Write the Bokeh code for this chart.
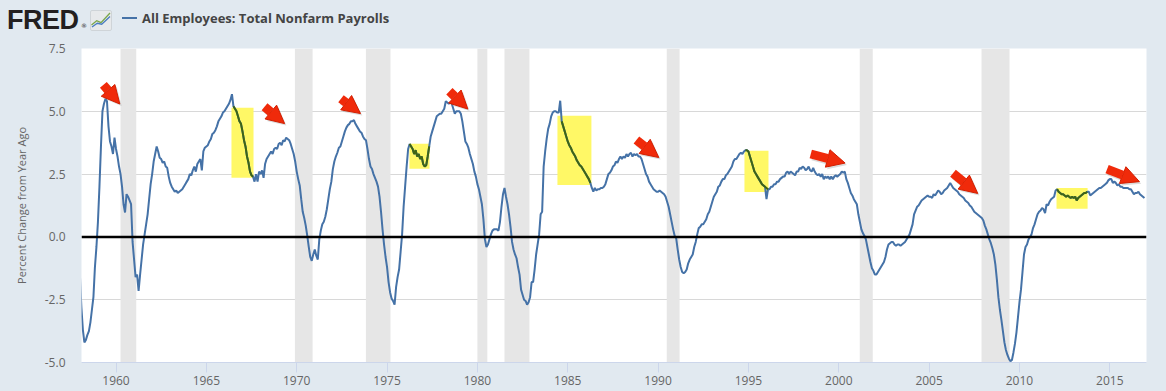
from bokeh.plotting import figure
from bokeh.layouts import column
from bokeh.models import ColumnDataSource, Range1d, FixedTicker, Span, Arrow, NormalHead, Div
from bokeh.embed import file_html
from bokeh.resources import INLINE

# ---------------- data ----------------
start_year = 1958
# All Employees: Total Nonfarm Payrolls, percent change from year ago (monthly, Jan 1958 - Dec 2016)
payroll_yoy = [
    -1.5, -2.8, -3.7, -4.2, -4.1, -3.9, -3.75, -3.4, -2.9, -2.4, -1.2, -0.4,   # 1958
    0.6, 2.0, 3.6, 5.0, 5.3, 5.5, 5.4, 4.4, 3.8, 3.6, 3.3, 3.95,              # 1959
    3.5, 3.2, 2.8, 2.5, 2.0, 1.3, 0.97, 1.7, 1.6, 1.45, 1.3, -0.2,            # 1960
    -0.9, -1.6, -1.5, -2.15, -1.5, -0.9, -0.3, 0.1, 0.5, 0.9, 1.5, 2.1,       # 1961
    2.5, 3.0, 3.3, 3.6, 3.4, 3.15, 3.1, 2.95, 3.0, 2.8, 2.75, 2.4,            # 1962
    2.15, 2.0, 1.9, 1.8, 1.85, 1.75, 1.8, 1.85, 1.9, 2.0, 2.1, 2.2,           # 1963
    2.3, 2.5, 2.45, 2.65, 2.8, 2.6, 2.9, 3.0, 3.1, 2.65, 3.4, 3.55,           # 1964
    3.6, 3.65, 3.8, 3.9, 4.1, 4.15, 4.25, 4.4, 4.6, 4.7, 4.8, 4.95,           # 1965
    5.0, 5.1, 5.2, 5.3, 5.45, 5.68, 5.2, 5.1, 5.0, 4.8, 4.6, 4.5,             # 1966
    4.2, 3.85, 3.6, 3.2, 2.95, 2.6, 2.45, 2.4, 2.2, 2.5, 2.2, 2.6,            # 1967
    2.5, 2.65, 2.35, 2.9, 3.1, 3.2, 3.3, 3.4, 3.3, 3.5, 3.55, 3.5,            # 1968
    3.7, 3.75, 3.65, 3.85, 3.8, 3.95, 3.9, 3.85, 3.7, 3.5, 3.3, 3.0,          # 1969
    2.6, 2.3, 2.05, 1.5, 1.0, 0.75, 0.45, 0.05, -0.4, -0.8, -0.95, -0.7,      # 1970
    -0.5, -0.75, -0.9, -0.1, 0.25, 0.5, 0.6, 0.8, 1.1, 1.5, 1.9, 2.2,         # 1971
    2.7, 3.0, 3.2, 3.35, 3.55, 3.6, 3.8, 4.0, 4.2, 4.35, 4.45, 4.5,           # 1972
    4.6, 4.6, 4.65, 4.5, 4.4, 4.3, 4.2, 4.15, 4.0, 3.9, 3.85, 3.5,            # 1973
    3.1, 2.8, 2.7, 2.5, 2.35, 2.2, 2.0, 1.6, 1.0, 0.3, -0.3, -0.8,            # 1974
    -1.2, -1.8, -2.2, -2.45, -2.55, -2.7, -2.0, -1.6, -1.3, -0.6, 0.1, 1.2,   # 1975
    2.0, 2.8, 3.5, 3.7, 3.6, 3.5, 3.3, 3.45, 3.2, 3.3, 3.1, 3.2,              # 1976
    2.9, 2.8, 2.85, 3.2, 3.6, 4.0, 4.2, 4.4, 4.6, 4.8, 4.85, 4.9,             # 1977
    4.9, 5.0, 5.1, 5.4, 5.35, 5.3, 5.35, 5.3, 5.1, 4.9, 5.0, 5.0,             # 1978
    5.0, 4.9, 4.6, 4.2, 3.8, 3.7, 3.55, 3.3, 3.1, 2.9, 2.6, 2.4,              # 1979
    2.1, 1.9, 1.6, 1.3, 0.7, -0.1, -0.4, -0.3, -0.1, 0.1, 0.25, 0.3,          # 1980
    0.3, 0.3, 0.25, 0.6, 1.2, 1.7, 1.95, 1.6, 1.3, 0.9, 0.4, -0.2,            # 1981
    -0.5, -0.7, -0.85, -1.2, -1.5, -2.1, -2.3, -2.5, -2.55, -2.7, -2.6, -2.4, # 1982
    -1.8, -1.8, -1.3, -0.7, -0.3, 0.1, 0.9, 1.0, 2.8, 3.4, 3.9, 4.3,          # 1983
    4.5, 4.8, 4.95, 5.0, 5.0, 4.95, 4.95, 5.42, 4.6, 4.4, 4.2, 4.0,           # 1984
    3.8, 3.65, 3.55, 3.4, 3.3, 3.2, 3.05, 2.95, 2.85, 2.8, 2.7, 2.6,          # 1985
    2.5, 2.4, 2.3, 2.15, 1.95, 1.8, 1.95, 1.85, 1.9, 1.9, 1.95, 1.95,         # 1986
    2.0, 2.1, 2.3, 2.5, 2.55, 2.65, 2.8, 2.85, 3.0, 2.95, 3.1, 3.2,           # 1987
    3.1, 3.2, 3.15, 3.3, 3.2, 3.3, 3.35, 3.2, 3.3, 3.25, 3.3, 3.2,            # 1988
    3.2, 3.1, 2.9, 2.7, 2.5, 2.4, 2.2, 2.1, 2.0, 1.9, 1.85, 1.8,              # 1989
    1.8, 1.85, 1.8, 1.75, 1.7, 1.6, 1.4, 1.2, 0.9, 0.6, 0.3, 0.05,            # 1990
    -0.05, -0.5, -0.9, -1.2, -1.4, -1.45, -1.4, -1.3, -1.05, -0.9, -0.8, -0.7,  # 1991
    -0.4, -0.2, 0.1, 0.35, 0.4, 0.5, 0.5, 0.6, 0.7, 0.9, 1.0, 1.2,            # 1992
    1.4, 1.6, 1.7, 1.8, 2.0, 2.05, 2.2, 2.3, 2.3, 2.45, 2.5, 2.6,             # 1993
    2.7, 2.8, 3.0, 3.1, 3.1, 3.2, 3.3, 3.35, 3.3, 3.4, 3.45, 3.45,            # 1994
    3.4, 3.2, 3.0, 2.8, 2.6, 2.5, 2.4, 2.3, 2.2, 2.1, 2.05, 2.0,              # 1995
    1.5, 1.9, 1.9, 2.0, 2.0, 2.1, 2.1, 2.2, 2.2, 2.3, 2.35, 2.4,              # 1996
    2.4, 2.55, 2.6, 2.5, 2.6, 2.55, 2.5, 2.45, 2.6, 2.6, 2.75, 2.7,           # 1997
    2.8, 2.75, 2.65, 2.7, 2.8, 2.65, 2.6, 2.75, 2.6, 2.5, 2.45, 2.5,          # 1998
    2.4, 2.5, 2.3, 2.4, 2.35, 2.4, 2.3, 2.4, 2.3, 2.4, 2.45, 2.4,             # 1999
    2.45, 2.5, 2.6, 2.55, 2.6, 2.3, 2.15, 1.95, 1.75, 1.65, 1.5, 1.4,         # 2000
    1.3, 0.9, 0.6, 0.3, 0.15, 0.05, -0.1, -0.4, -0.7, -1.0, -1.25, -1.35,     # 2001
    -1.5, -1.5, -1.4, -1.3, -1.2, -1.1, -1.0, -0.8, -0.5, -0.3, -0.25, -0.2,  # 2002
    -0.2, -0.3, -0.35, -0.3, -0.3, -0.35, -0.3, -0.25, -0.2, -0.1, 0.0, 0.1,  # 2003
    0.3, 0.5, 0.9, 1.05, 1.2, 1.25, 1.35, 1.45, 1.5, 1.55, 1.6, 1.65,         # 2004
    1.6, 1.6, 1.55, 1.7, 1.65, 1.75, 1.85, 1.8, 1.7, 1.75, 1.85, 1.9,         # 2005
    1.95, 2.05, 2.15, 2.05, 1.95, 1.9, 1.85, 1.8, 1.7, 1.65, 1.6, 1.55,       # 2006
    1.45, 1.4, 1.35, 1.25, 1.2, 1.1, 1.0, 0.95, 0.9, 0.85, 0.8, 0.75,         # 2007
    0.65, 0.45, 0.3, 0.1, -0.1, -0.25, -0.45, -0.7, -1.1, -1.7, -2.4, -2.9,   # 2008
    -3.3, -3.75, -4.2, -4.5, -4.7, -4.85, -4.95, -4.9, -4.6, -4.25, -3.8, -3.2,  # 2009
    -2.6, -2.1, -1.4, -0.7, -0.4, -0.3, -0.1, 0.0, 0.1, 0.35, 0.5, 0.7,       # 2010
    0.9, 1.0, 1.05, 1.15, 1.1, 0.95, 1.3, 1.25, 1.4, 1.5, 1.55, 1.6,          # 2011
    1.85, 1.9, 1.8, 1.75, 1.7, 1.7, 1.65, 1.6, 1.65, 1.6, 1.55, 1.6,          # 2012
    1.55, 1.6, 1.45, 1.55, 1.6, 1.65, 1.7, 1.75, 1.75, 1.8, 1.8, 1.65,        # 2013
    1.7, 1.75, 1.8, 1.85, 1.9, 1.95, 1.95, 2.0, 2.05, 2.1, 2.15, 2.25,        # 2014
    2.3, 2.3, 2.15, 2.2, 2.15, 2.05, 2.1, 2.0, 2.0, 1.95, 1.95, 1.95,         # 2015
    1.95, 1.9, 1.9, 1.8, 1.7, 1.75, 1.75, 1.8, 1.7, 1.65, 1.6, 1.55,          # 2016
]

# NBER recessions (decimal years)
rec_start = [1960.25, 1969.90, 1973.83, 1980.00, 1981.50, 1990.48, 2001.16, 2007.90]
rec_end = [1961.12, 1970.88, 1975.19, 1980.55, 1982.88, 1991.19, 2001.88, 2009.45]

# yellow highlight boxes
hl_x0 = [1966.39, 1976.24, 1984.43, 1994.78, 2012.05]
hl_x1 = [1967.61, 1977.35, 1986.31, 1996.11, 2013.77]
hl_top = [5.14, 3.71, 4.82, 3.43, 1.95]
hl_bottom = [2.35, 2.71, 2.07, 1.79, 1.12]

# red arrows (tail -> tip)
arrow_x0 = [1959.30, 1968.22, 1972.45, 1978.45, 1988.80, 1998.45, 2006.32, 2014.85]
arrow_y0 = [6.05, 5.18, 5.50, 5.80, 3.86, 3.30, 2.53, 2.70]
arrow_x1 = [1960.21, 1969.33, 1973.53, 1979.47, 1990.04, 2000.35, 2007.69, 2016.64]
arrow_y1 = [5.29, 4.51, 4.91, 5.09, 3.16, 2.94, 1.73, 2.20]

x_ticks = [1960, 1965, 1970, 1975, 1980, 1985, 1990, 1995, 2000, 2005, 2010, 2015]
y_ticks = [-5.0, -2.5, 0.0, 2.5, 5.0, 7.5]
y_tick_labels = ["-5.0", "-2.5", "0.0", "2.5", "5.0", "7.5"]

title_text = "All Employees: Total Nonfarm Payrolls"
y_label = "Percent Change from Year Ago"
logo_text = "FRED"

BG = "#e1e9f0"
FONT = "Open Sans"
GREY = "#666666"
SERIES = "#4572a7"
W, HEAD_H, MAIN_H = 1166, 40, 351

# ---------------- header strip ----------------
header_html = f"""
<div style="position:relative;width:{W}px;height:{HEAD_H}px;background:{BG};overflow:hidden;">
  <span style="position:absolute;left:7px;top:4.5px;line-height:30px;white-space:nowrap;
        font-family:'Liberation Sans';font-weight:bold;font-size:27px;color:#231f20;
        letter-spacing:-0.5px;">{logo_text}</span>
  <span style="position:absolute;left:81px;top:22px;line-height:8px;font-family:'DejaVu Sans';
        font-size:6px;color:#231f20;">&reg;</span>
  <svg style="position:absolute;left:90px;top:10px;" width="22" height="22" viewBox="0 0 22 22">
    <rect x="0.5" y="0.5" width="21" height="20" rx="1.5" fill="#e7e9eb" stroke="#cfd4d8"/>
    <polyline points="1.5,15 6.7,10.7 11,12.7 20,3" fill="none" stroke="#7aa64a" stroke-width="1.3"/>
    <polyline points="2,17 7.3,13.3 11.7,14.2 20,6.5" fill="none" stroke="#4a7cc0" stroke-width="1.3"/>
  </svg>
  <span style="position:absolute;left:122px;top:17.3px;width:15px;height:2px;background:{SERIES};"></span>
  <span style="position:absolute;left:142px;top:8.5px;line-height:18px;white-space:nowrap;
        font-family:'{FONT}';font-weight:bold;font-size:13px;color:#444444;">{title_text}</span>
</div>
"""
header = Div(text=header_html, width=W, height=HEAD_H, margin=0, styles={"background-color": BG})

# ---------------- main chart ----------------
dates = [start_year + i / 12.0 for i in range(len(payroll_yoy))]

p = figure(width=W, height=MAIN_H, x_range=Range1d(1958.09, 2017.03), y_range=Range1d(-5, 7.5),
           output_backend="svg", toolbar_location=None, title=None,
           min_border_left=81, min_border_right=20, min_border_top=8, min_border_bottom=29,
           background_fill_color="white", border_fill_color=BG, outline_line_color=None)

p.xgrid.visible = False
p.ygrid.ticker = FixedTicker(ticks=y_ticks)
p.ygrid.grid_line_color = "#d8d8d8"

p.xaxis.ticker = FixedTicker(ticks=x_ticks)
p.xaxis.major_label_overrides = {t: str(t) for t in x_ticks}
p.xaxis.axis_line_color = "#ccd6eb"
p.xaxis.major_tick_line_color = "#ccd6eb"
p.xaxis.major_tick_in = 0
p.xaxis.major_tick_out = 10
p.xaxis.minor_tick_line_color = None
p.xaxis.major_label_standoff = 3
p.xaxis.major_label_text_font = FONT
p.xaxis.major_label_text_font_size = "12px"
p.xaxis.major_label_text_color = GREY

p.yaxis.ticker = FixedTicker(ticks=y_ticks)
p.yaxis.major_label_overrides = {t: l for t, l in zip(y_ticks, y_tick_labels)}
p.yaxis.axis_line_color = None
p.yaxis.major_tick_line_color = None
p.yaxis.minor_tick_line_color = None
p.yaxis.major_tick_in = 0
p.yaxis.major_tick_out = 0
p.yaxis.major_label_standoff = 16
p.yaxis.major_label_text_font = FONT
p.yaxis.major_label_text_font_size = "12px"
p.yaxis.major_label_text_color = GREY
p.yaxis.axis_label = y_label
p.yaxis.axis_label_text_font = FONT
p.yaxis.axis_label_text_font_size = "11px"
p.yaxis.axis_label_text_font_style = "normal"
p.yaxis.axis_label_text_color = GREY
p.yaxis.axis_label_standoff = 13

# recession shading
p.quad(left=rec_start, right=rec_end, bottom=-5, top=7.5, fill_color="#e6e6e6", line_color=None)

# yellow highlight boxes
p.quad(left=hl_x0, right=hl_x1, bottom=hl_bottom, top=hl_top, fill_color="#fff866", line_color=None)

# main series
p.line(dates, payroll_yoy, line_color=SERIES, line_width=2)

# series seen through the highlight (darker green)
for x0, x1, b, t in zip(hl_x0, hl_x1, hl_bottom, hl_top):
    seg = [(d, v) for d, v in zip(dates, payroll_yoy) if x0 <= d <= x1 and b - 0.1 <= v <= t + 0.1]
    if seg:
        p.line([s[0] for s in seg], [s[1] for s in seg], line_color="#3e6414", line_width=2)

# zero line
p.add_layout(Span(location=0, dimension="width", line_color="black", line_width=2.5))

# red arrows with a soft shadow
shadow_src = ColumnDataSource(dict(x0=[x + 0.1 for x in arrow_x0], y0=[y - 0.08 for y in arrow_y0],
                                   x1=[x + 0.1 for x in arrow_x1], y1=[y - 0.08 for y in arrow_y1]))
p.add_layout(Arrow(source=shadow_src, x_start="x0", y_start="y0", x_end="x1", y_end="y1",
                   line_color="#888888", line_alpha=0.3, line_width=9, line_cap="butt",
                   end=NormalHead(size=18, fill_color="#888888", fill_alpha=0.3, line_color=None)))
arrow_src = ColumnDataSource(dict(x0=arrow_x0, y0=arrow_y0, x1=arrow_x1, y1=arrow_y1))
p.add_layout(Arrow(source=arrow_src, x_start="x0", y_start="y0", x_end="x1", y_end="y1",
                   line_color="#f02a0a", line_width=9, line_cap="butt",
                   end=NormalHead(size=18, fill_color="#f02a0a", line_color="#d21e00", line_width=1)))

layout = column(header, p, spacing=0, styles={"background-color": BG})
open("out.html", "w").write(file_html(layout, INLINE))
